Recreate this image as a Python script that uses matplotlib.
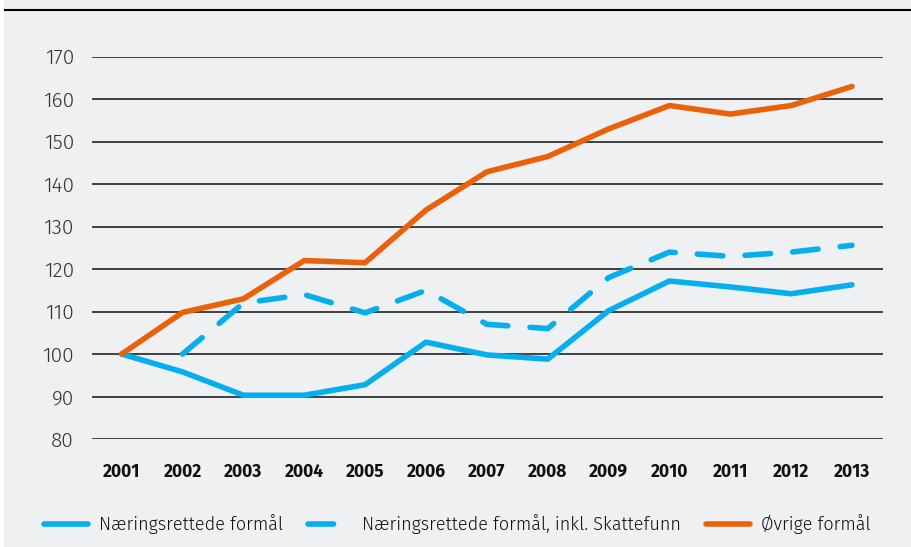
import matplotlib.pyplot as plt
from matplotlib.lines import Line2D
from matplotlib.patches import Rectangle

# DATA

years = [2001, 2002, 2003, 2004, 2005, 2006, 2007, 2008, 2009, 2010, 2011, 2012, 2013]
naering = [100, 95.8, 90.3, 90.3, 92.8, 102.8, 99.8, 98.8, 110.2, 117.2, 115.8, 114.2, 116.3]
skattefunn_years = years[1:]
skattefunn = [100, 112, 114, 109.7, 115, 107, 106, 118, 124, 123, 124, 125.6]
ovrige = [100, 109.8, 113, 122, 121.5, 133.9, 142.9, 146.5, 153, 158.5, 156.5, 158.5, 163]

labels = ['Næringsrettede formål', 'Næringsrettede formål, inkl. Skattefunn', 'Øvrige formål']
yticks = [80, 90, 100, 110, 120, 130, 140, 150, 160, 170]

blue = '#05aeec'
orange = '#eb6109'
bg = '#eff0f2'

plt.rcParams['font.family'] = ['Fira Sans', 'DejaVu Sans']

fig = plt.figure(figsize=(9.11, 5.47), dpi=100, facecolor=bg)
# axes box in pixels: x 92..883, y 56.7..439
ax = fig.add_axes([92/911, 1-439/547, (883-92)/911, (439-56.7)/547])
ax.set_facecolor(bg)

for v in yticks:
    ax.axhline(v, color='#222222', lw=1.2, zorder=1)

lw = 4.0
l1, = ax.plot(years, naering, color=blue, lw=lw, solid_capstyle='round', solid_joinstyle='round', zorder=3)
l2, = ax.plot(skattefunn_years, skattefunn, color=blue, lw=lw, dashes=(4.6, 4.0),
              dash_capstyle='round', dash_joinstyle='round', zorder=3)
l3, = ax.plot(years, ovrige, color=orange, lw=lw, solid_capstyle='round', solid_joinstyle='round', zorder=3)

step = (852 - 121.7) / 12
ax.set_xlim(2001 - (121.7 - 92) / step, 2013 + (883 - 852) / step)
ax.set_ylim(80, 170)
ax.set_xticks(years)
ax.set_xticklabels([str(y) for y in years], fontweight='bold', fontsize=12.5, color='#111111')
ax.set_yticks(yticks)
ax.set_yticklabels([str(v) for v in yticks], fontsize=15, fontweight=300, color='#333333')
ax.tick_params(axis='x', length=0, pad=17)
ax.tick_params(axis='y', length=0, pad=13)
for s in ax.spines.values():
    s.set_visible(False)

leg = fig.legend([l1, l2, l3], labels, loc='center', bbox_to_anchor=(0.502, 1-524/547), ncol=3,
                 frameon=False, prop={'size': 13, 'weight': 300}, handlelength=2.4,
                 columnspacing=1.4, handletextpad=0.6)
for t in leg.get_texts():
    t.set_color('#111111')

# rule at the top and the thin white edge at the left
fig.add_artist(Line2D([5/911, 1], [1-10/547, 1-10/547], color='black', lw=1.5))
fig.add_artist(Rectangle((0, 0), 4/911, 1, transform=fig.transFigure, color='white', lw=0))

fig.savefig('out.png', dpi=100, facecolor=bg)
